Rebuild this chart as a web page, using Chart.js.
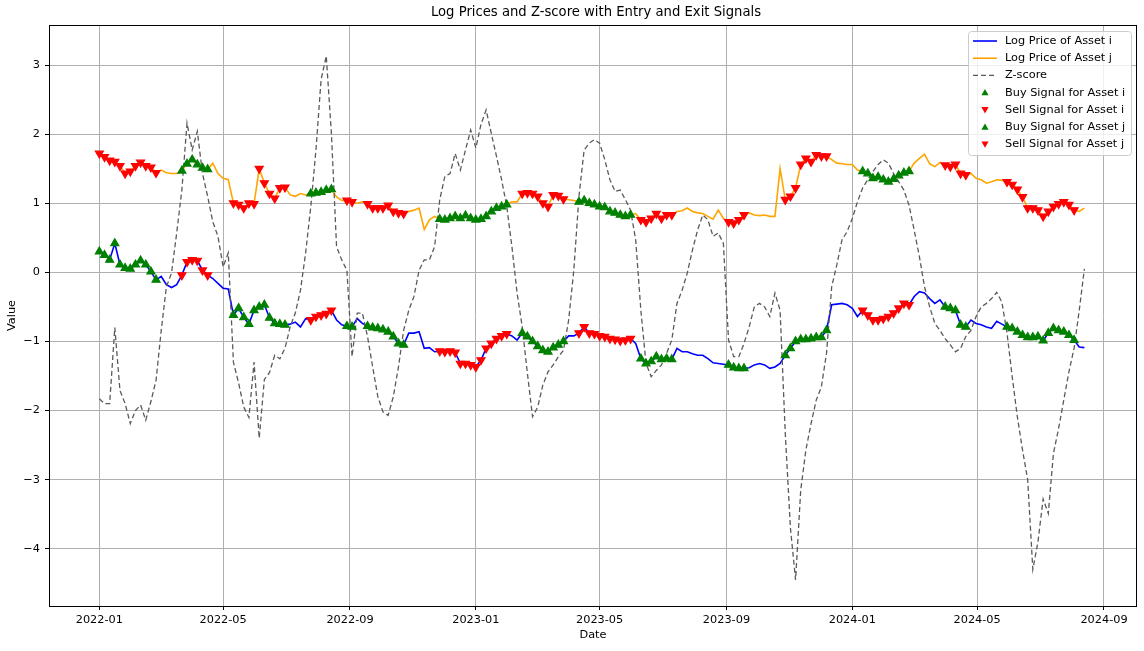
<!DOCTYPE html>
<html>
<head>
<meta charset="utf-8">
<title>Log Prices and Z-score with Entry and Exit Signals</title>
<script src="https://cdn.jsdelivr.net/npm/chart.js@4.4.0/dist/chart.umd.min.js"></script>
<style>
  html, body { margin: 0; padding: 0; background: #fff; }
  #wrap { width: 1144px; height: 651px; }
</style>
</head>
<body>
<div id="wrap"><canvas id="pairChart" width="1144" height="651"></canvas></div>
<script>
// one sample every 5 days starting 2022-01-01
const startYear = 2022;
const stepDays = 5;

const logPriceI = [
  0.30, 0.25, 0.18, 0.42, 0.11, 0.06, 0.05, 0.11, 0.17, 0.11, 0.01, -0.11,
  -0.06, -0.18, -0.22, -0.18, -0.04, 0.15, 0.18, 0.17, 0.03, -0.04, -0.09, -0.16,
  -0.23, -0.24, -0.62, -0.52, -0.65, -0.75, -0.55, -0.50, -0.47, -0.66, -0.74, -0.75,
  -0.76, -0.75, -0.72, -0.79, -0.67, -0.69, -0.64, -0.62, -0.60, -0.55, -0.69, -0.76,
  -0.78, -0.79, -0.67, -0.74, -0.78, -0.80, -0.81, -0.83, -0.86, -0.93, -1.03, -1.05,
  -0.88, -0.88, -0.86, -1.10, -1.09, -1.15, -1.14, -1.15, -1.14, -1.16, -1.32, -1.32,
  -1.34, -1.37, -1.27, -1.10, -1.03, -0.96, -0.92, -0.89, -0.92, -0.98, -0.88, -0.93,
  -1.00, -1.07, -1.13, -1.15, -1.09, -1.05, -1.00, -0.92, -0.92, -0.88, -0.79, -0.88,
  -0.89, -0.92, -0.93, -0.96, -0.97, -0.99, -0.98, -0.96, -1.03, -1.25, -1.32, -1.29,
  -1.22, -1.26, -1.25, -1.26, -1.10, -1.15, -1.15, -1.18, -1.20, -1.20, -1.25, -1.31,
  -1.32, -1.33, -1.34, -1.38, -1.39, -1.39, -1.38, -1.34, -1.32, -1.34, -1.39, -1.37,
  -1.32, -1.20, -1.10, -1.00, -0.97, -0.97, -0.96, -0.94, -0.94, -0.84, -0.47, -0.46,
  -0.45, -0.47, -0.52, -0.64, -0.55, -0.62, -0.69, -0.69, -0.67, -0.64, -0.59, -0.52,
  -0.45, -0.47, -0.35, -0.28, -0.30, -0.38, -0.45, -0.40, -0.50, -0.52, -0.55, -0.76,
  -0.79, -0.69, -0.74, -0.76, -0.79, -0.81, -0.71, -0.75, -0.79, -0.81, -0.86, -0.91,
  -0.94, -0.94, -0.93, -0.99, -0.88, -0.81, -0.84, -0.86, -0.91, -0.98, -1.08, -1.09
];

const logPriceJ = [
  1.72, 1.67, 1.62, 1.60, 1.54, 1.43, 1.46, 1.54, 1.59, 1.54, 1.52, 1.44,
  1.48, 1.44, 1.43, 1.43, 1.47, 1.57, 1.63, 1.56, 1.51, 1.49, 1.58, 1.43,
  1.36, 1.34, 1.00, 0.98, 0.93, 1.00, 0.99, 1.50, 1.29, 1.14, 1.07, 1.22,
  1.23, 1.12, 1.10, 1.14, 1.12, 1.14, 1.15, 1.16, 1.19, 1.20, 1.09, 1.04,
  1.04, 1.02, 1.00, 1.02, 0.99, 0.93, 0.93, 0.93, 0.97, 0.88, 0.86, 0.85,
  0.88, 0.90, 0.93, 0.62, 0.76, 0.81, 0.77, 0.76, 0.78, 0.81, 0.78, 0.82,
  0.78, 0.76, 0.77, 0.81, 0.88, 0.93, 0.95, 0.98, 1.02, 1.02, 1.14, 1.15,
  1.14, 1.10, 1.00, 0.95, 1.12, 1.11, 1.06, 1.05, 1.04, 1.02, 1.04, 1.00,
  0.98, 0.95, 0.94, 0.88, 0.86, 0.83, 0.81, 0.83, 0.85, 0.76, 0.73, 0.78,
  0.85, 0.78, 0.83, 0.83, 0.88, 0.89, 0.93, 0.88, 0.86, 0.85, 0.81, 0.77,
  0.90, 0.78, 0.73, 0.71, 0.76, 0.83, 0.86, 0.83, 0.82, 0.83, 0.81, 0.81,
  1.50, 1.05, 1.10, 1.22, 1.56, 1.65, 1.60, 1.70, 1.68, 1.68, 1.63, 1.58,
  1.57, 1.56, 1.56, 1.48, 1.46, 1.43, 1.36, 1.38, 1.34, 1.31, 1.35, 1.40,
  1.44, 1.46, 1.58, 1.65, 1.71, 1.57, 1.53, 1.59, 1.55, 1.53, 1.56, 1.43,
  1.41, 1.43, 1.36, 1.34, 1.29, 1.31, 1.34, 1.33, 1.31, 1.27, 1.20, 1.09,
  0.93, 0.93, 0.90, 0.81, 0.88, 0.95, 0.99, 1.02, 0.98, 0.90, 0.88, 0.93
];

const zScore = [
  -1.83, -1.90, -1.90, -0.80, -1.71, -1.90, -2.19, -2.00, -1.92, -2.14, -1.87, -1.56,
  -0.84, -0.21, -0.01, 0.57, 1.19, 2.16, 1.77, 2.04, 1.43, 1.10, 0.73, 0.52,
  0.08, 0.28, -1.30, -1.60, -1.95, -2.10, -1.30, -2.40, -1.55, -1.45, -1.20, -1.25,
  -1.10, -0.79, -0.59, -0.26, 0.28, 0.95, 1.77, 2.79, 3.13, 2.01, 0.37, 0.18,
  0.03, -1.22, -0.59, -0.59, -0.93, -1.37, -1.80, -2.02, -2.07, -1.80, -1.37, -0.84,
  -0.55, -0.35, 0.03, 0.18, 0.18, 0.37, 1.05, 1.39, 1.43, 1.72, 1.48, 1.77,
  2.06, 1.80, 2.14, 2.35, 2.01, 1.68, 1.34, 0.95, 0.37, -0.30, -0.79, -1.46,
  -2.09, -1.95, -1.63, -1.44, -1.34, -1.22, -1.13, -0.69, 0.03, 1.10, 1.77, 1.87,
  1.92, 1.87, 1.63, 1.34, 1.17, 1.19, 1.05, 0.90, 0.47, -0.55, -1.32, -1.51,
  -1.42, -1.34, -1.17, -0.98, -0.45, -0.26, -0.01, 0.32, 0.61, 0.83, 0.76, 0.52,
  0.57, 0.42, -0.98, -1.22, -1.22, -1.03, -0.79, -0.50, -0.45, -0.50, -0.64, -0.30,
  -0.55, -2.33, -3.70, -4.45, -3.15, -2.57, -2.19, -1.85, -1.66, -1.17, -0.21, 0.11,
  0.47, 0.59, 0.78, 1.02, 1.22, 1.34, 1.46, 1.56, 1.63, 1.58, 1.43, 1.31,
  1.19, 0.97, 0.61, 0.23, -0.21, -0.50, -0.74, -0.84, -0.96, -1.05, -1.15, -1.10,
  -0.93, -0.84, -0.64, -0.50, -0.45, -0.38, -0.29, -0.43, -0.88, -1.51, -2.09, -2.57,
  -3.00, -4.30, -3.90, -3.28, -3.49, -2.62, -2.26, -1.85, -1.44, -1.10, -0.55, 0.05
];

// signal windows [first day, last day] counted from 2022-01-01
// high spread: sell i / buy j
const highSpread = [[80, 105], [205, 225], [330, 395], [465, 515], [740, 785]];
// low spread: buy i / sell j
const lowSpread = [[0, 55], [130, 180], [240, 245], [260, 295], [410, 450],
                   [525, 555], [610, 625], [665, 705], [820, 840], [880, 945]];

const xTickLabels = ['2022-01', '2022-05', '2022-09', '2023-01', '2023-05',
                     '2023-09', '2024-01', '2024-05', '2024-09'];
const yTickValues = [-4, -3, -2, -1, 0, 1, 2, 3];

const DAY = 86400000;
function dayOfLabel(label) {
  const [y, m] = label.split('-').map(Number);
  return (Date.UTC(y, m - 1, 1) - Date.UTC(startYear, 0, 1)) / DAY;
}
const xTickDays = xTickLabels.map(dayOfLabel);

function toXY(series) {
  return series.map((v, i) => ({ x: i * stepDays, y: v }));
}
function inWindows(day, windows) {
  return windows.some(w => day >= w[0] && day <= w[1]);
}
function signalPoints(series, windows) {
  return toXY(series).filter(p => inWindows(p.x, windows));
}

Chart.defaults.font.family = '"DejaVu Sans", sans-serif';
Chart.defaults.font.size = 11.3;
Chart.defaults.color = '#000';

function roundedRect(c, x, y, w, h, r) {
  c.beginPath();
  c.moveTo(x + r, y);
  c.arcTo(x + w, y, x + w, y + h, r);
  c.arcTo(x + w, y + h, x, y + h, r);
  c.arcTo(x, y + h, x, y, r);
  c.arcTo(x, y, x + w, y, r);
  c.closePath();
}

function triangle(c, x, y, s, down) {
  const d = down ? -1 : 1;
  c.beginPath();
  c.moveTo(x, y - d * s);
  c.lineTo(x - s, y + d * s * 0.75);
  c.lineTo(x + s, y + d * s * 0.75);
  c.closePath();
  c.fill();
}

const decorPlugin = {
  id: 'decor',
  afterDraw(chart) {
    const c = chart.ctx;
    const a = chart.chartArea;
    c.save();

    // axes frame on all four sides
    c.strokeStyle = '#000';
    c.lineWidth = 1;
    c.setLineDash([]);
    c.strokeRect(Math.round(a.left) + 0.5, Math.round(a.top) + 0.5,
                 Math.round(a.right - a.left) - 1, Math.round(a.bottom - a.top));

    // title
    c.fillStyle = '#000';
    c.font = '13.2px "DejaVu Sans", sans-serif';
    c.textAlign = 'center';
    c.textBaseline = 'middle';
    c.fillText('Log Prices and Z-score with Entry and Exit Signals', (a.left + a.right) / 2 + 3, 13);

    // legend box in the upper right corner
    const lw = 163, lh = 124;
    const lx = a.right - 6 - lw, ly = a.top + 6;
    roundedRect(c, lx + 0.5, ly + 0.5, lw, lh, 3);
    c.fillStyle = 'rgba(255,255,255,0.8)';
    c.fill();
    c.strokeStyle = '#cccccc';
    c.lineWidth = 1;
    c.stroke();

    c.font = '11.3px "DejaVu Sans", sans-serif';
    c.textAlign = 'left';
    chart.data.datasets.forEach((ds, i) => {
      const y = ly + 10 + i * 17.2;
      if (ds.showLine === false) {
        c.fillStyle = ds.backgroundColor;
        triangle(c, lx + 17, y, 3.6, ds.pointRotation === 180);
      } else {
        c.strokeStyle = ds.borderColor;
        c.lineWidth = ds.borderWidth;
        c.setLineDash(ds.borderDash || []);
        c.beginPath();
        c.moveTo(lx + 5, y);
        c.lineTo(lx + 29, y);
        c.stroke();
        c.setLineDash([]);
      }
      c.fillStyle = '#000';
      c.fillText(ds.label, lx + 37, y);
    });
    c.restore();
  }
};

function signalSet(label, data, color, down) {
  return {
    label: label,
    data: data,
    showLine: false,
    pointStyle: 'triangle',
    pointRotation: down ? 180 : 0,
    pointRadius: 4.6,
    pointHoverRadius: 4.6,
    backgroundColor: color,
    borderColor: color,
    pointBorderWidth: 1.2,
    order: 1
  };
}

const ctx = document.getElementById('pairChart').getContext('2d');
new Chart(ctx, {
  type: 'line',
  data: {
    datasets: [
      {
        label: 'Log Price of Asset i',
        data: toXY(logPriceI),
        borderColor: '#0000ff',
        borderWidth: 1.6,
        pointRadius: 0,
        order: 5
      },
      {
        label: 'Log Price of Asset j',
        data: toXY(logPriceJ),
        borderColor: '#ffa500',
        borderWidth: 1.6,
        pointRadius: 0,
        order: 4
      },
      {
        label: 'Z-score',
        data: toXY(zScore),
        borderColor: '#5a5a5a',
        borderWidth: 1.3,
        borderDash: [5, 3],
        pointRadius: 0,
        order: 3
      },
      signalSet('Buy Signal for Asset i', signalPoints(logPriceI, lowSpread), '#008000', false),
      signalSet('Sell Signal for Asset i', signalPoints(logPriceI, highSpread), '#ff0000', true),
      signalSet('Buy Signal for Asset j', signalPoints(logPriceJ, highSpread), '#008000', false),
      signalSet('Sell Signal for Asset j', signalPoints(logPriceJ, lowSpread), '#ff0000', true)
    ]
  },
  options: {
    responsive: false,
    animation: false,
    layout: { padding: { top: 25, right: 7, left: 0, bottom: 0 } },
    elements: { line: { tension: 0 } },
    plugins: {
      legend: { display: false },
      title: { display: false },
      tooltip: { enabled: false }
    },
    scales: {
      x: {
        type: 'linear',
        min: -48.8,
        max: 1006,
        afterFit(scale) { scale.height = 45; },
        afterBuildTicks(scale) { scale.ticks = xTickDays.map(v => ({ value: v })); },
        ticks: {
          callback: (v, i) => xTickLabels[i],
          padding: 3,
          maxRotation: 0,
          autoSkip: false
        },
        grid: { color: '#b0b0b0', tickColor: '#000', tickLength: 4, lineWidth: 1 },
        border: { display: false },
        title: { display: true, text: 'Date', padding: { top: 0, bottom: 9 } }
      },
      y: {
        type: 'linear',
        min: -4.829,
        max: 3.579,
        afterFit(scale) { scale.width = 49; },
        afterBuildTicks(scale) { scale.ticks = yTickValues.map(v => ({ value: v })); },
        ticks: {
          callback: v => (v < 0 ? '\u2212' + Math.abs(v) : String(v)),
          padding: 5
        },
        grid: { color: '#b0b0b0', tickColor: '#000', tickLength: 4, lineWidth: 1 },
        border: { display: false },
        title: { display: true, text: 'Value', padding: { top: 5, bottom: 0 } }
      }
    }
  },
  plugins: [decorPlugin]
});
</script>
</body>
</html>
